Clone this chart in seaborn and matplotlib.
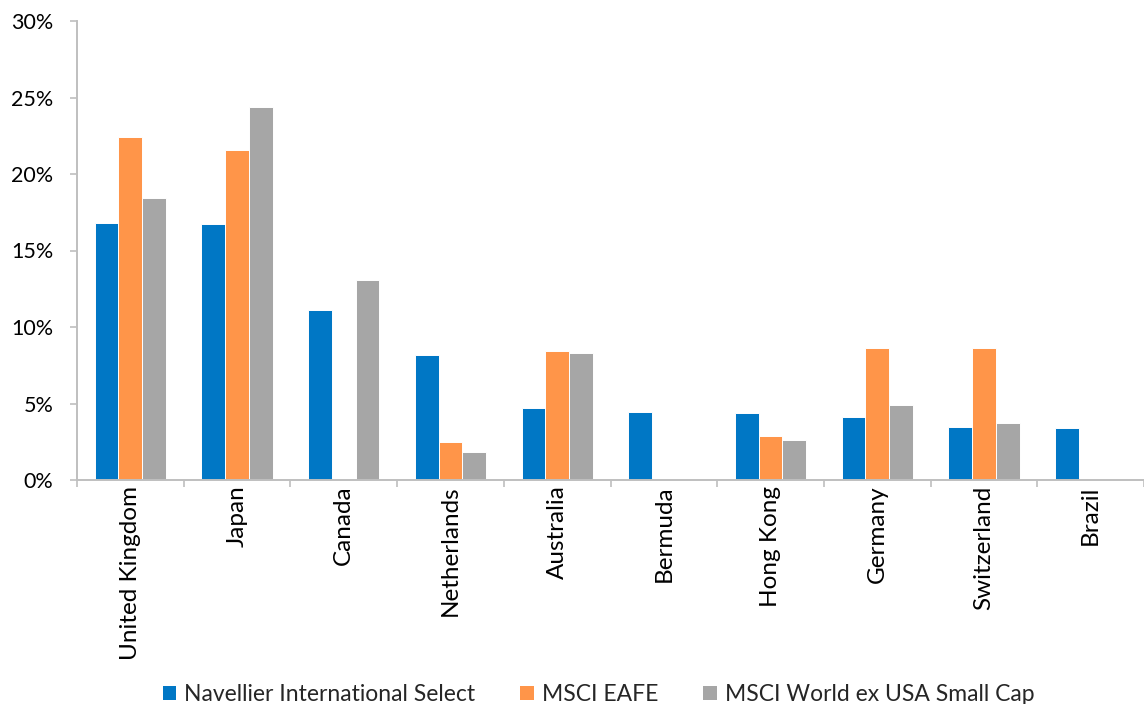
import matplotlib
matplotlib.use("Agg")
import matplotlib.pyplot as plt
import matplotlib.ticker as mticker
import numpy as np
import pandas as pd
import seaborn as sns

# Country weights (%) for the fund and two benchmarks
countries = ["United Kingdom", "Japan", "Canada", "Netherlands", "Australia",
             "Bermuda", "Hong Kong", "Germany", "Switzerland", "Brazil"]
navellier = [16.8, 16.75, 11.1, 8.2, 4.7, 4.45, 4.35, 4.15, 3.45, 3.4]
msci_eafe = [22.4, 21.6, 0.0, 2.5, 8.4, 0.0, 2.9, 8.6, 8.6, 0.0]
msci_small = [18.4, 24.4, 13.1, 1.8, 8.3, 0.0, 2.6, 4.9, 3.7, 0.0]
series_names = ["Navellier International Select", "MSCI EAFE",
                "MSCI World ex USA Small Cap"]
colors = ["#0077C5", "#FF9549", "#A6A6A6"]

df = pd.DataFrame({
    "Country": countries * 3,
    "Series": [series_names[0]] * 10 + [series_names[1]] * 10 + [series_names[2]] * 10,
    "Weight": navellier + msci_eafe + msci_small,
})

sns.set_theme(style="white")
plt.rcParams["font.family"] = ["Lato", "DejaVu Sans"]

fig = plt.figure(figsize=(11.44, 7.04), dpi=100)
ax = fig.add_axes([77 / 1144, (704 - 480) / 704, (1144 - 77) / 1144, (480 - 21) / 704])

sns.barplot(data=df, x="Country", y="Weight", hue="Series", palette=colors,
            width=0.667, gap=0, edgecolor="white", linewidth=0.7,
            saturation=1, ax=ax, legend=True)

ax.set_ylim(0, 30)
ax.set_xlim(-0.5, 9.5 - 6 / 107.3)
ax.yaxis.set_major_locator(mticker.MultipleLocator(5))
ax.yaxis.set_major_formatter(mticker.FuncFormatter(lambda v, p: f"{v:.0f}%"))
ax.set_xlabel("")
ax.set_ylabel("")

# Category boundaries carry the x tick marks; labels sit at centers
ax.set_xticks(np.arange(len(countries)))
ax.set_xticklabels(countries, rotation=90, fontsize=17.5, color="#000000")
ax.set_xticks(np.arange(len(countries) + 1) - 0.5, minor=True)
ax.tick_params(axis="x", which="major", length=0, pad=4)
ax.tick_params(axis="x", which="minor", length=5, width=1.2, color="#BFBFBF",
               direction="out", bottom=True)
ax.tick_params(axis="y", which="major", length=5, width=1.2, color="#BFBFBF",
               direction="out", left=True, pad=12, labelsize=15.5,
               labelcolor="#000000")

for side in ["top", "right"]:
    ax.spines[side].set_visible(False)
for side in ["left", "bottom"]:
    ax.spines[side].set_color("#BFBFBF")
    ax.spines[side].set_linewidth(1.4)

leg = ax.legend(loc="lower center", bbox_to_anchor=(0.5 - 12 / 1067, -0.51),
                ncol=3, frameon=False, fontsize=16.5, handlelength=0.6,
                handleheight=0.6, handletextpad=0.35, columnspacing=1.95,
                borderaxespad=0)
for h in leg.legend_handles:
    h.set_edgecolor("none")

fig.savefig("out.png", dpi=100)
